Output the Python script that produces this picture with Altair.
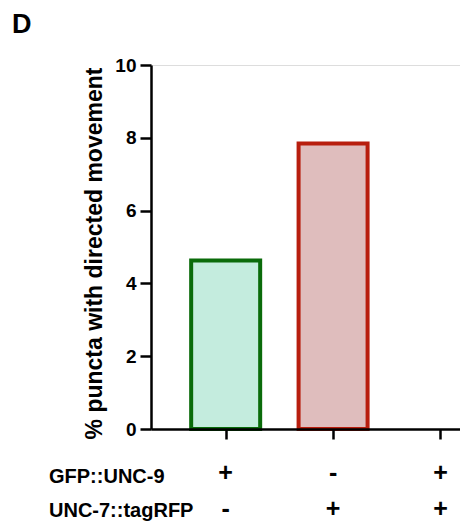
import altair as alt
import pandas as pd

# data
conditions = [1, 2, 3]
values = [4.63, 7.84, 0.0]
gfp_unc9 = ["+", "-", "+"]
unc7_tagrfp = ["-", "+", "+"]
fill_colors = ["#c4ecde", "#dfbdbd", "#ffffff"]
stroke_colors = ["#0a6b0a", "#b81e0e", "transparent"]
row_labels = ["GFP::UNC-9", "UNC-7::tagRFP"]
y_ticks = [0, 2, 4, 6, 8, 10]

df = pd.DataFrame({
    "cond": conditions,
    "value": values,
    "gfp": gfp_unc9,
    "rfp": unc7_tagrfp,
    "fill": fill_colors,
    "stroke": stroke_colors,
})

FONT = "Liberation Sans"

xscale = alt.Scale(domain=[0.3514, 3.135], nice=False, zero=False)
yscale = alt.Scale(domain=[0, 10], nice=False)

bars = alt.Chart(df).mark_bar(size=69, strokeWidth=4).encode(
    x=alt.X("cond:Q", scale=xscale,
            axis=alt.Axis(values=conditions, labels=False, title=None, grid=False,
                          domainColor="black", domainWidth=2.5, tickColor="black",
                          tickWidth=2.5, tickSize=10, zindex=1)),
    y=alt.Y("value:Q", scale=yscale,
            axis=alt.Axis(values=y_ticks, grid=False, title="% puncta with directed movement",
                          domainColor="black", domainWidth=2.5, tickColor="black",
                          tickWidth=2.5, tickSize=11, labelPadding=4,
                          labelFont=FONT, labelFontWeight="bold", labelFontSize=19,
                          labelColor="black",
                          titleFont=FONT, titleFontWeight="bold", titleFontSize=23,
                          titleColor="black", titleAngle=270, titleAlign="center",
                          titleBaseline="middle", titleX=-57, titleY=188, zindex=1)),
    fill=alt.Fill("fill:N", scale=None),
    stroke=alt.Stroke("stroke:N", scale=None),
)

sign_style = dict(font=FONT, fontWeight="bold", fontSize=25, baseline="middle",
                  align="center", color="black")
row1 = alt.Chart(df).mark_text(**sign_style).encode(
    x=alt.X("cond:Q", scale=xscale), y=alt.value(408), text="gfp:N")
row2 = alt.Chart(df).mark_text(**sign_style).encode(
    x=alt.X("cond:Q", scale=xscale), y=alt.value(444), text="rfp:N")

lab_df = pd.DataFrame({"label": row_labels, "row": [0, 1]})
label_style = dict(font=FONT, fontWeight="bold", fontSize=20, align="left",
                   baseline="alphabetic", color="black")
lab1 = alt.Chart(lab_df).transform_filter("datum.row == 0").mark_text(**label_style).encode(
    x=alt.value(-102), y=alt.value(418), text="label:N")
lab2 = alt.Chart(lab_df).transform_filter("datum.row == 1").mark_text(**label_style).encode(
    x=alt.value(-102), y=alt.value(452), text="label:N")

panel = alt.Chart(pd.DataFrame({"t": ["D"]})).mark_text(
    font=FONT, fontWeight="bold", fontSize=27, align="left", baseline="alphabetic", color="black"
).encode(x=alt.value(-139), y=alt.value(-32), text="t:N")

chart = alt.layer(bars, row1, row2, lab1, lab2, panel).properties(
    width=309, height=364,
    padding={"left": 143, "top": 57, "right": 0, "bottom": 92},
    autosize=alt.AutoSizeParams(type="none"),
).configure_view(stroke=None).configure(background="white")

chart.save("out.html", embed_options={"renderer": "svg", "actions": False})
